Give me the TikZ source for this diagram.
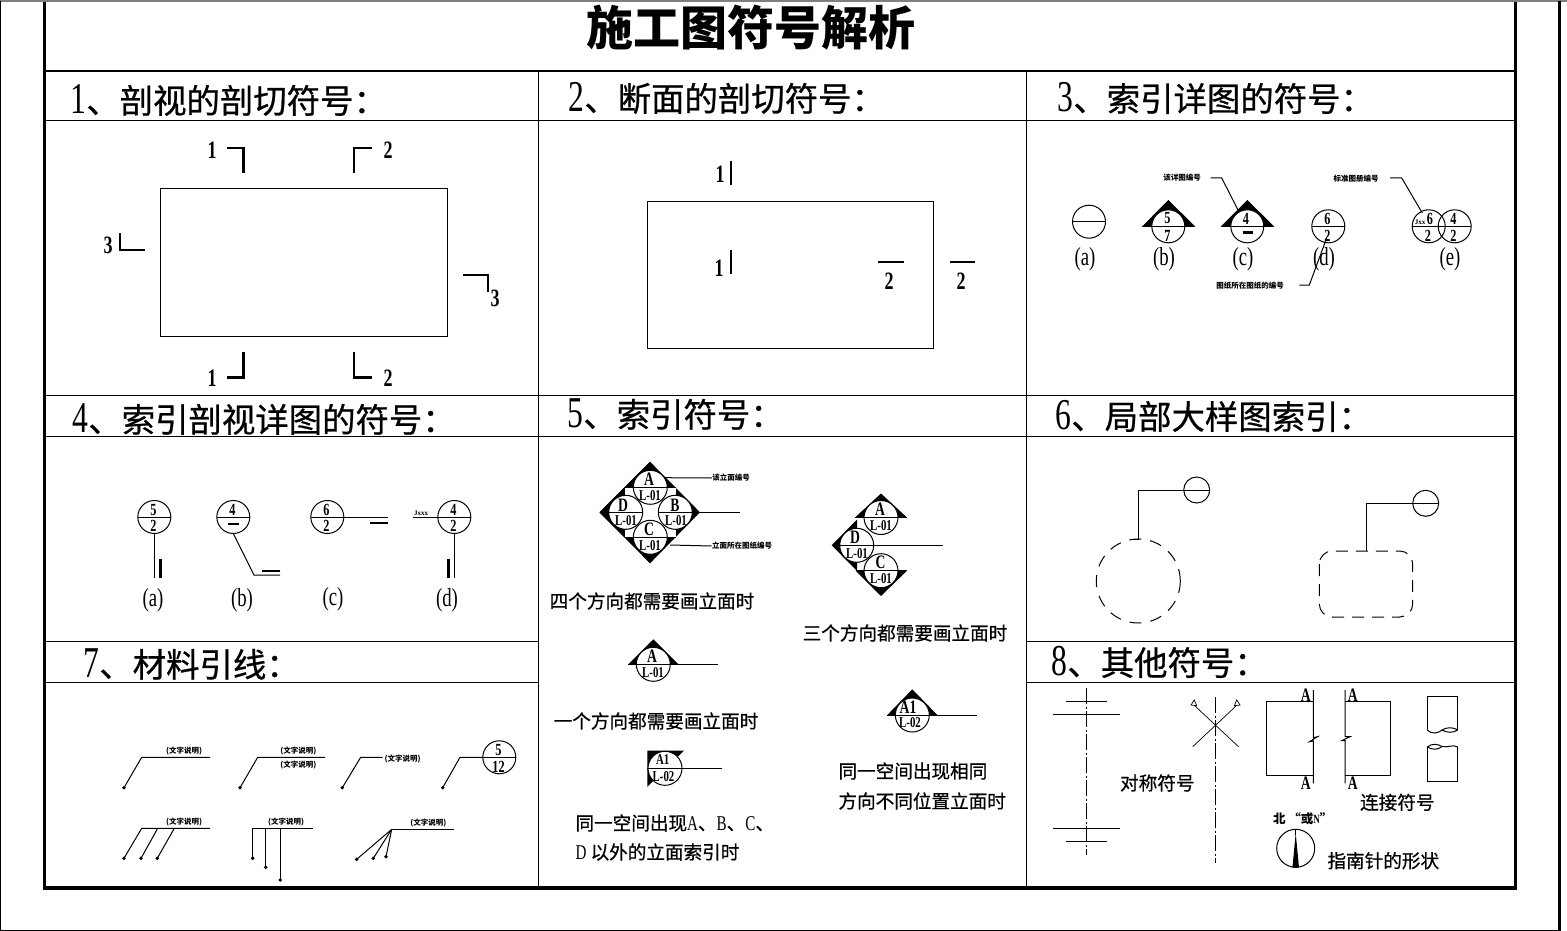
\documentclass[tikz,border=0pt]{standalone}
\usepackage{fontspec}
\setmainfont{Liberation Serif}
\newfontfamily\cjk{Noto Sans CJK SC}
\newfontfamily\cjkh[FakeBold=0.7]{Noto Sans CJK SC}
\newfontfamily\numfont[FakeStretch=0.72]{Liberation Serif}
\newcommand{\hnum}[1]{{\fontsize{44}{44}\selectfont\numfont #1}}

\begin{document}
\begin{tikzpicture}[x=1pt,y=-1pt,line width=1pt,
  thick frame/.style={line width=3.4pt},
  cutbar/.style={line width=2.6pt},
  sym/.style={circle,draw,fill=white,inner sep=0pt,outer sep=0pt,minimum size=33pt},
  small sym/.style={circle,draw,fill=white,inner sep=0pt,outer sep=0pt,minimum size=26pt},
  ref sym/.style={circle,draw,fill=white,inner sep=0pt,outer sep=0pt,minimum size=34pt},
  maintitle/.style={font=\cjk\bfseries\fontsize{47}{47}\selectfont,inner sep=0pt},
  head/.style={font=\cjkh\fontsize{33.4}{34}\selectfont,inner sep=0pt,anchor=west},
  note/.style={font=\cjkh\fontsize{18.6}{19}\selectfont,inner sep=0pt},
  tinynote/.style={font=\cjk\bfseries\fontsize{7.5}{8}\selectfont,inner sep=0pt},
  num/.style={font=\numfont\bfseries\fontsize{17}{17}\selectfont,inner sep=0pt},
  bignum/.style={font=\numfont\bfseries\fontsize{25}{25}\selectfont,inner sep=0pt},
  refnum/.style={font=\numfont\bfseries\fontsize{15}{15}\selectfont,inner sep=0pt},
  letter/.style={font=\numfont\bfseries\fontsize{19}{19}\selectfont,inner sep=0pt},
  sublabel/.style={font=\numfont\fontsize{26}{26}\selectfont,inner sep=0pt}]
\useasboundingbox (0,0) rectangle (1567,931);

% outer sheet
\draw[gray,line width=2pt] (0,1.5) -- (1567,1.5);
\draw (0.5,1) -- (0.5,930.5) -- (1559,930.5);
\draw[line width=3pt] (1559.5,1) -- (1559.5,930.5);

% table
\draw[thick frame] (44.5,2) -- (44.5,888) -- (1515.5,888) -- (1515.5,2);
\draw[line width=2.6pt] (44.5,71) -- (1515.5,71);
\draw (44.5,120.5) -- (1515.5,120.5);
\draw (44.5,395) -- (1515.5,395);
\draw (44.5,436) -- (1515.5,436);
\draw (44.5,641) -- (538.5,641);
\draw (44.5,682) -- (538.5,682);
\draw (1026.5,641) -- (1515.5,641);
\draw (1026.5,682) -- (1515.5,682);
\draw (538.5,71) -- (538.5,888);
\draw (1026.5,71) -- (1026.5,888);

% titles
\node[maintitle] (title) at (751,28) {施工图符号解析};
\node[head] (head1) at (70,100) {\hnum{1}、剖视的剖切符号：};
\node[head] (head2) at (568,98) {\hnum{2}、断面的剖切符号：};
\node[head] (head3) at (1057,98) {\hnum{3}、索引详图的符号：};
\node[head] (head4) at (72,419) {\hnum{4}、索引剖视详图的符号：};
\node[head] (head5) at (567,414) {\hnum{5}、索引符号：};
\node[head] (head6) at (1055,416) {\hnum{6}、局部大样图索引：};
\node[head] (head7) at (83,664) {\hnum{7}、材料引线：};
\node[head] (head8) at (1051,662) {\hnum{8}、其他符号：};

% part 1
\draw (160.5,188.5) rectangle (447.7,336.5);
\draw[cutbar] (227,148) -- (243.7,148) -- (243.7,172.7);
\draw[cutbar] (371.7,148) -- (354,148) -- (354,172.7);
\draw[cutbar] (120,233) -- (120,250) -- (145,250);
\draw[cutbar] (463,275) -- (488,275) -- (488,292);
\draw[cutbar] (227,377.7) -- (243.7,377.7) -- (243.7,352);
\draw[cutbar] (371.7,377.7) -- (354,377.7) -- (354,352);
\node[bignum] (secA) at (212,150) {1};
\node[bignum] (secB) at (388,150) {2};
\node[bignum] (secC) at (108,245) {3};
\node[bignum] (secD) at (495,298) {3};
\node[bignum] (secE) at (212,378) {1};
\node[bignum] (secF) at (388,378) {2};

% part 2
\draw (647.5,201.5) rectangle (933.5,348.5);
\draw[cutbar] (731,161) -- (731,185);
\draw[cutbar] (731,250) -- (731,274);
\draw[cutbar] (878,262) -- (904,262);
\draw[cutbar] (950,262) -- (975,262);
\node[bignum] (cutA) at (720,174) {1};
\node[bignum] (cutB) at (719,268) {1};
\node[bignum] (cutC) at (889,281) {2};
\node[bignum] (cutD) at (961,281) {2};

% part 3
\node[sym] (dtlA) at (1089,221.7) {};
\draw (dtlA.west) -- (dtlA.east);
\fill (1142.3,226.3) -- (1168.3,200) -- (1195,226.3) -- cycle;
\node[sym] (dtlB) at (1168.3,226.3) {};
\draw (1142.3,226.3) -- (1195,226.3);
\node[num] (dtlBt) at (1167.5,218) {5};
\node[num] (dtlBb) at (1167.5,235.5) {7};
\fill (1221,226.3) -- (1247.3,200) -- (1274,226.3) -- cycle;
\node[sym] (dtlC) at (1247.3,226.3) {};
\draw (1221,226.3) -- (1274,226.3);
\node[num] (dtlCt) at (1246,218.5) {4};
\draw[cutbar] (1242.7,232.7) -- (1253.3,232.7);
\node[sym] (dtlD) at (1328.3,226.3) {};
\draw (dtlD.west) -- (dtlD.east);
\node[num] (dtlDt) at (1327.5,219) {6};
\node[num] (dtlDb) at (1327.5,235.5) {2};
\node[sym] (dtlE) at (1428.7,226.3) {};
\node[sym,fill=none] (dtlF) at (1454.7,226.3) {};
\draw (dtlE.west) -- (dtlF.east);
\node[num] (dtlEt) at (1430,219) {6};
\node[num] (dtlEb) at (1428,235.5) {2};
\node[num] (dtlFt) at (1453.5,219) {4};
\node[num] (dtlFb) at (1453.5,235.5) {2};
\node[font=\bfseries\fontsize{7}{7}\selectfont,inner sep=0pt] (dtlEj) at (1420,222) {Jxx};
\node[tinynote] (noteC) at (1182,178) {该详图编号};
\node[tinynote] (noteD) at (1250,286) {图纸所在图纸的编号};
\node[tinynote] (noteE) at (1356,179) {标准图册编号};
\coordinate (leadC) at (1210.7,178);
\coordinate (leadD) at (1299.3,285);
\coordinate (leadE) at (1390,178);
\draw (leadC) -- (1221.7,178) -- (dtlC.120);
\draw (leadD) -- (1309.3,285) -- (1326.7,238);
\draw (leadE) -- (1401.7,178) -- (1422.3,213);
\node[sublabel] (dtla) at (1085,259) {(a)};
\node[sublabel] (dtlb) at (1164,259) {(b)};
\node[sublabel] (dtlc) at (1243,259) {(c)};
\node[sublabel] (dtld) at (1324,259) {(d)};
\node[sublabel] (dtle) at (1450,259) {(e)};

% part 4
\node[sym] (viewA) at (154.3,517) {};
\draw (viewA.west) -- (viewA.east);
\node[num] (viewAt) at (153.5,510) {5};
\node[num] (viewAb) at (153.5,526) {2};
\draw (viewA.south) -- (154.3,577.7);
\draw[cutbar] (160.3,559) -- (160.3,577.7);
\node[sym] (viewB) at (233.3,517) {};
\draw (viewB.west) -- (viewB.east);
\node[num] (viewBt) at (232.5,510) {4};
\draw[cutbar] (228,524) -- (239,524);
\coordinate (viewBe) at (280,575);
\draw (viewB.south) -- (254,575) -- (viewBe);
\draw[cutbar] (262.3,571) -- (280,571);
\node[sym] (viewC) at (327.3,517) {};
\draw (viewC.west) -- (viewC.east);
\node[num] (viewCt) at (326.5,510) {6};
\node[num] (viewCb) at (326.5,526) {2};
\coordinate (viewCe) at (388.3,517);
\draw (viewC.east) -- (viewCe);
\draw[cutbar] (370,523) -- (388.3,523);
\node[sym] (viewD) at (454.3,517) {};
\draw (viewD.west) -- (viewD.east);
\node[num] (viewDt) at (453.5,510) {4};
\node[num] (viewDb) at (453.5,526) {2};
\coordinate (viewDe) at (412.7,517);
\draw (viewD.west) -- (viewDe);
\node[font=\bfseries\fontsize{7}{7}\selectfont,inner sep=0pt] (viewDj) at (421,513) {Jxxx};
\draw (viewD.south) -- (454.3,577.7);
\draw[cutbar] (448.7,559) -- (448.7,577.7);
\node[sublabel] (viewa) at (153,600) {(a)};
\node[sublabel] (viewb) at (242,600) {(b)};
\node[sublabel] (viewc) at (333,599) {(c)};
\node[sublabel] (viewd) at (447,600) {(d)};

% part 5, four directions
\fill (599.3,512.3) -- (650,461.7) -- (700,512.3) -- (650,563.3) -- cycle;
\fill[white] (625,487.3) rectangle (675.5,537.3);
\node[ref sym] (dirA) at (650.3,487.3) {};
\node[ref sym] (dirB) at (675.3,512.3) {};
\node[ref sym] (dirC) at (650.3,537.3) {};
\node[ref sym] (dirD) at (625.7,512.3) {};
\draw (625,487.3) -- (675.5,487.3);
\draw (625,537.3) -- (675.5,537.3);
\draw (dirD.west) -- (dirD.east);
\draw (dirB.west) -- (dirB.east);
\node[letter] (dirAt) at (649,479.5) {A};
\node[refnum] (dirAb) at (650,495.5) {L-01};
\node[letter] (dirBt) at (675,505) {B};
\node[refnum] (dirBb) at (676,520.5) {L-01};
\node[letter] (dirCt) at (649,529.5) {C};
\node[refnum] (dirCb) at (650,545.5) {L-01};
\node[letter] (dirDt) at (623,505) {D};
\node[refnum] (dirDb) at (626,520.5) {L-01};
\node[tinynote] (dirNoteA) at (731,478) {该立面编号};
\node[tinynote] (dirNoteB) at (742,546) {立面所在图纸编号};
\coordinate (dirEnd) at (740,512.3);
\draw (664,477.7) -- (dirNoteA.west);
\draw (670,545) -- (dirNoteB.west);
\draw (700,512.3) -- (dirEnd);
\node[note] (txtFour) at (652,601) {四个方向都需要画立面时};

% part 5, three directions
\fill (855,517.5) -- (881,493.5) -- (907,517.5) -- cycle;
\fill (831.7,545.3) -- (857,519.5) -- (857,571) -- cycle;
\fill (855.5,570.7) -- (881,596) -- (907,570.7) -- cycle;
\node[ref sym] (triA) at (881,517.5) {};
\node[ref sym] (triC) at (881,570.7) {};
\node[ref sym] (triD) at (856.7,545.3) {};
\draw (855,517.5) -- (907,517.5);
\draw (855.5,570.7) -- (907,570.7);
\coordinate (triEnd) at (942.7,545.3);
\draw (triD.west) -- (triEnd);
\node[letter] (triAt) at (880,509.5) {A};
\node[refnum] (triAb) at (881,526) {L-01};
\node[letter] (triCt) at (880.5,562) {C};
\node[refnum] (triCb) at (881,578.5) {L-01};
\node[letter] (triDt) at (855,537) {D};
\node[refnum] (triDb) at (857,553.5) {L-01};
\node[note] (txtThree) at (905,633) {三个方向都需要画立面时};

% part 5, one direction
\fill (628.3,664.3) -- (653.3,639.3) -- (678.3,664.3) -- cycle;
\node[ref sym] (oneA) at (653.3,664.3) {};
\coordinate (oneEnd) at (718.3,664.3);
\draw (628.3,664.3) -- (oneEnd);
\node[letter] (oneAt) at (652,656.5) {A};
\node[refnum] (oneAb) at (653,672.5) {L-01};
\node[note] (txtOne) at (656,721) {一个方向都需要画立面时};

% part 5, same space
\fill (887.3,715) -- (912.3,689.3) -- (937.3,715) -- cycle;
\node[ref sym] (sameA) at (912.3,715) {};
\coordinate (sameEnd) at (976.7,715);
\draw (887.3,715) -- (sameEnd);
\node[letter] (sameAt) at (908,707) {A1};
\node[refnum] (sameAb) at (910,723) {L-02};
\node[note,anchor=west] (txtSameA) at (838,771) {同一空间出现相同};
\node[note,anchor=west] (txtSameB) at (838,801) {方向不同位置立面时};

% part 5, other letters
\fill (647.3,750.7) -- (684,750.7) -- (647.3,786.7) -- cycle;
\node[ref sym] (othA) at (665,768.3) {};
\coordinate (othEnd) at (721.7,768.3);
\draw (647.3,768.3) -- (othEnd);
\node[refnum] (othAt) at (662.7,760) {A1};
\node[refnum] (othAb) at (663.5,777) {L-02};
\node[note,anchor=west] (txtOthA) at (575,823) {同一空间出现{\numfont\fontsize{21}{21}\selectfont A}、{\numfont\fontsize{21}{21}\selectfont B}、{\numfont\fontsize{21}{21}\selectfont C}、};
\node[note,anchor=west] (txtOthB) at (575,852) {{\numfont\fontsize{21}{21}\selectfont D} 以外的立面索引时};

% part 6
\node[small sym] (partA) at (1196.7,490) {};
\draw (partA.west) -- (partA.east);
\coordinate (partAe) at (1131.7,539.3);
\draw (partA.west) -- (1138.7,490) -- (1138.7,539.3) -- (partAe);
\draw[dash pattern=on 12pt off 9pt] (1138.3,581) circle (42pt);
\node[small sym] (partB) at (1425.7,503.3) {};
\draw (partB.west) -- (partB.east);
\coordinate (partBe) at (1366.7,551);
\draw (partB.west) -- (1366.7,503.3) -- (partBe);
\draw[dash pattern=on 12pt off 8pt,rounded corners=13pt] (1319.3,551) rectangle (1412.7,617);

% part 7
\coordinate (ldA) at (124,787.7);
\filldraw (ldA) circle (1.2pt);
\draw (ldA) -- (141.7,757.3) -- (210,757.3);
\node[tinynote] (ldAt) at (184,750.7) {(文字说明)};
\coordinate (ldB) at (240,787.7);
\filldraw (ldB) circle (1.2pt);
\draw (ldB) -- (257.7,757.3) -- (325,757.3);
\node[tinynote] (ldBt) at (298.3,750.7) {(文字说明)};
\node[tinynote] (ldBb) at (298.3,765.3) {(文字说明)};
\coordinate (ldC) at (342.3,787.7);
\filldraw (ldC) circle (1.2pt);
\draw (ldC) -- (360.7,757.3) -- (382.7,757.3);
\node[tinynote] (ldCt) at (402.7,759.3) {(文字说明)};
\node[sym] (ldCirc) at (499.3,757.3) {};
\draw (ldCirc.west) -- (ldCirc.east);
\node[num] (ldCirct) at (498.5,750) {5};
\node[num] (ldCircb) at (498.5,767) {12};
\coordinate (ldD) at (442.7,787.7);
\filldraw (ldD) circle (1.2pt);
\draw (ldD) -- (460,757.3) -- (ldCirc.west);

\coordinate (ldE) at (124,858.3);
\coordinate (ldF) at (141,858.3);
\coordinate (ldG) at (157.3,858.3);
\filldraw (ldE) circle (1.2pt);
\filldraw (ldF) circle (1.2pt);
\filldraw (ldG) circle (1.2pt);
\draw (ldE) -- (141.7,828.3) -- (210,828.3);
\draw (ldF) -- (157.7,828.3);
\draw (ldG) -- (174.3,828.3);
\node[tinynote] (ldEt) at (184,821.7) {(文字说明)};

\coordinate (ldH) at (252.7,858.3);
\coordinate (ldI) at (265.7,867.3);
\coordinate (ldJ) at (280.3,880);
\filldraw (ldH) circle (1.2pt);
\filldraw (ldI) circle (1.2pt);
\filldraw (ldJ) circle (1.2pt);
\draw (ldH) -- (252.7,828.3) -- (312.7,828.3);
\draw (ldI) -- (265.7,828.3);
\draw (ldJ) -- (280.3,828.3);
\node[tinynote] (ldHt) at (286,821.7) {(文字说明)};

\coordinate (ldK) at (356.7,859.3);
\coordinate (ldL) at (373.3,858.3);
\coordinate (ldM) at (386,856.7);
\coordinate (ldN) at (391.7,829.3);
\filldraw (ldK) circle (1.2pt);
\filldraw (ldL) circle (1.2pt);
\filldraw (ldM) circle (1.2pt);
\draw (ldK) -- (ldN);
\draw (ldL) -- (ldN);
\draw (ldM) -- (ldN);
\draw (ldN) -- (454,829.3);
\node[tinynote] (ldKt) at (428.3,823) {(文字说明)};

% part 8, symmetry
\draw[dash pattern=on 16pt off 2.5pt on 2pt off 2.5pt] (1086.7,688) -- (1086.7,855);
\draw (1066,701) -- (1106.7,701);
\draw (1053.3,714.3) -- (1120,714.3);
\draw (1053.3,828.3) -- (1120,828.3);
\draw (1066,841) -- (1106.7,841);
\draw[dash pattern=on 16pt off 2.5pt on 2pt off 2.5pt] (1215.3,697.3) -- (1215.3,863.3);
\draw[line width=.7pt] (1192.7,746.7) -- (1236,706);
\draw[line width=.7pt] (1238.5,746.7) -- (1194.5,705.5);
\draw[line width=.7pt] (1191,705) -- (1194.3,700) -- (1196.7,705.8) -- cycle;
\draw[line width=.7pt] (1240,705) -- (1236.7,700) -- (1234.3,705.8) -- cycle;
\node[note] (txtSym) at (1157.3,783) {对称符号};

% part 8, connection
\draw (1313.3,701) -- (1266.7,701) -- (1266.7,775.7) -- (1313.3,775.7);
\draw (1313.3,690) -- (1313.3,737.7) -- (1317.5,736.7) -- (1309.5,741.7) -- (1313.3,741) -- (1313.3,783.3);
\draw (1345,701) -- (1390.7,701) -- (1390.7,775.7) -- (1345,775.7);
\draw (1345,690) -- (1345,736.7) -- (1350,736.7) -- (1341.7,740.7) -- (1345,740.7) -- (1345,783.3);
\node[letter] (conA) at (1305.7,695) {A};
\node[letter] (conB) at (1352.7,695) {A};
\node[letter] (conC) at (1305.7,783) {A};
\node[letter] (conD) at (1352.7,783) {A};
\draw (1427.3,730) -- (1427.3,696.3) -- (1457.7,696.3) -- (1457.7,730);
\draw (1427.3,730) .. controls (1433,735) and (1438,733) .. (1442,730) .. controls (1447,727) and (1453,727) .. (1457.7,730);
\draw (1442,730) .. controls (1447,733) and (1453,733) .. (1457.7,730);
\draw (1427.3,747) -- (1427.3,781.7) -- (1457.7,781.7) -- (1457.7,747);
\draw (1427.3,747) .. controls (1432,743) and (1438,744) .. (1442,746.5) .. controls (1447,748) and (1453,744) .. (1457.7,747);
\draw (1427.3,747) .. controls (1432,750) and (1438,750) .. (1442,746.5);
\node[note] (txtCon) at (1397.3,802.3) {连接符号};

% part 8, compass
\node[font=\cjk\bfseries\fontsize{12.5}{13}\selectfont,inner sep=0pt] (north) at (1302.7,819) {北 “或{\numfont N}”};
\node[circle,draw,inner sep=0pt,outer sep=0pt,minimum size=38pt] (compass) at (1295.7,848.3) {};
\draw (compass.north) -- (1295.7,835);
\fill (1295.7,833) -- (1299,867.7) -- (1292.4,867.7) -- cycle;
\node[note] (txtCompass) at (1383.3,860.7) {指南针的形状};
\end{tikzpicture}
\end{document}
